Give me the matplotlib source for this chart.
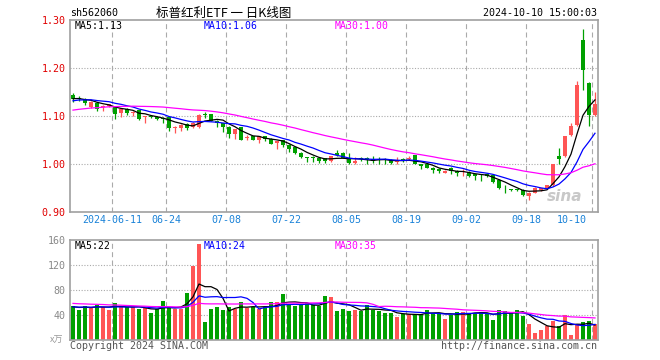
import numpy as np
import pandas as pd
import matplotlib
matplotlib.use('Agg')
import matplotlib.pyplot as plt

# daily K data for sh562060, 2024-05-30 .. 2024-10-10 (88 trading days)
open_ = [1.144, 1.137, 1.135, 1.118, 1.128, 1.118, 1.121, 1.118, 1.106, 1.115,
         1.106, 1.112, 1.097, 1.100, 1.098, 1.096, 1.097, 1.075, 1.076, 1.083,
         1.078, 1.078, 1.104, 1.104, 1.090, 1.085, 1.078, 1.063, 1.077, 1.054,
         1.058, 1.051, 1.058, 1.053, 1.043, 1.050, 1.040, 1.035, 1.023, 1.014,
         1.013, 1.012, 1.012, 1.006, 1.023, 1.023, 1.013, 1.002, 1.012, 1.012,
         1.011, 1.010, 1.010, 1.009, 1.004, 1.011, 1.011, 1.018, 1.000, 0.999,
         0.992, 0.990, 0.982, 0.992, 0.986, 0.984, 0.984, 0.979, 0.978, 0.979,
         0.977, 0.967, 0.950, 0.947, 0.947, 0.946, 0.933, 0.940, 0.946, 0.949,
         0.956, 1.017, 1.017, 1.060, 1.081, 1.258, 1.169, 1.102]
high = [1.148, 1.141, 1.137, 1.131, 1.129, 1.122, 1.126, 1.119, 1.116, 1.116,
        1.110, 1.113, 1.100, 1.101, 1.099, 1.097, 1.098, 1.080, 1.084, 1.086,
        1.088, 1.104, 1.108, 1.105, 1.091, 1.086, 1.079, 1.073, 1.078, 1.061,
        1.059, 1.059, 1.059, 1.054, 1.048, 1.051, 1.041, 1.036, 1.024, 1.015,
        1.017, 1.013, 1.013, 1.017, 1.030, 1.024, 1.023, 1.014, 1.015, 1.015,
        1.016, 1.014, 1.012, 1.010, 1.014, 1.012, 1.016, 1.019, 1.001, 1.000,
        0.993, 0.991, 0.987, 0.993, 0.987, 0.990, 0.986, 0.980, 0.979, 0.980,
        0.978, 0.968, 0.956, 0.948, 0.948, 0.947, 0.941, 0.952, 0.951, 0.957,
        1.000, 1.033, 1.058, 1.085, 1.172, 1.281, 1.170, 1.151]
low = [1.130, 1.131, 1.122, 1.117, 1.111, 1.110, 1.118, 1.094, 1.097, 1.103,
       1.099, 1.092, 1.086, 1.095, 1.092, 1.085, 1.069, 1.064, 1.068, 1.071,
       1.075, 1.076, 1.096, 1.089, 1.078, 1.067, 1.054, 1.053, 1.050, 1.051,
       1.050, 1.044, 1.047, 1.041, 1.032, 1.035, 1.026, 1.021, 1.012, 1.004,
       1.004, 1.002, 1.003, 1.004, 1.016, 1.012, 0.999, 1.000, 1.006, 1.000,
       1.002, 1.001, 1.001, 1.001, 1.000, 1.005, 1.009, 0.999, 0.990, 0.991,
       0.981, 0.981, 0.981, 0.979, 0.974, 0.974, 0.972, 0.967, 0.965, 0.972,
       0.960, 0.948, 0.939, 0.944, 0.944, 0.934, 0.925, 0.939, 0.944, 0.948,
       0.955, 1.001, 1.015, 1.058, 1.080, 1.154, 1.079, 1.099]
close = [1.135, 1.136, 1.127, 1.130, 1.115, 1.120, 1.124, 1.105, 1.115, 1.106,
         1.109, 1.094, 1.099, 1.097, 1.094, 1.094, 1.076, 1.077, 1.082, 1.076,
         1.086, 1.102, 1.102, 1.090, 1.085, 1.078, 1.063, 1.072, 1.051, 1.056,
         1.051, 1.058, 1.053, 1.042, 1.047, 1.039, 1.032, 1.022, 1.015, 1.013,
         1.012, 1.007, 1.006, 1.016, 1.018, 1.013, 1.002, 1.007, 1.011, 1.011,
         1.006, 1.009, 1.009, 1.002, 1.009, 1.007, 1.012, 1.000, 0.995, 0.992,
         0.987, 0.985, 0.986, 0.985, 0.981, 0.985, 0.974, 0.974, 0.977, 0.974,
         0.963, 0.949, 0.949, 0.946, 0.946, 0.935, 0.940, 0.951, 0.949, 0.956,
         1.000, 1.010, 1.058, 1.079, 1.165, 1.196, 1.102, 1.126]
volume = [53.9, 48.5, 53.9, 52.3, 56.5, 52.3, 48.5, 59.2, 52.3, 52.3,
          52.3, 50.1, 51.2, 43.2, 50.1, 62.9, 51.2, 50.1, 50.1, 75.2,
          118.9, 153.6, 28.8, 50.1, 52.8, 48.0, 52.3, 50.1, 60.8, 51.2,
          52.3, 50.1, 52.3, 60.8, 60.8, 73.6, 55.5, 53.9, 55.5, 59.2,
          55.5, 53.9, 69.9, 68.3, 46.9, 50.1, 46.9, 48.5, 45.9, 56.5,
          48.5, 45.9, 43.2, 43.2, 36.8, 41.6, 41.6, 41.6, 41.6, 48.5,
          43.2, 43.2, 34.1, 40.5, 44.8, 44.8, 43.2, 43.2, 43.2, 43.2,
          32.5, 48.5, 46.9, 43.2, 48.5, 38.9, 25.6, 11.2, 16.5, 21.9,
          29.9, 21.9, 40.5, 8.5, 25.6, 28.8, 30.9, 25.6]

# the 29 sessions before the window, only needed for the moving averages
close_before = [1.085, 1.088, 1.090, 1.092, 1.095, 1.094, 1.097, 1.099, 1.101, 1.100,
                1.103, 1.105, 1.106, 1.108, 1.110, 1.112, 1.114, 1.116, 1.117, 1.119,
                1.120, 1.124, 1.128, 1.131, 1.133, 1.135, 1.138, 1.137, 1.136]
vol_before = [66, 62, 65, 63, 61, 67, 64, 62, 66, 63, 65, 58, 60, 57, 59,
              56, 58, 61, 57, 56, 54, 52, 55, 51, 53, 54, 52, 55, 51]

tick_idx = [7, 16, 26, 36, 46, 56, 66, 76, 87]
tick_lbl = ['2024-06-11', '06-24', '07-08', '07-22', '08-05', '08-19', '09-02', '09-18', '10-10']

RED = '#ff5555'
GREEN = '#00a000'
GRID = '#aaaaaa'
MONO = 'DejaVu Sans Mono'
CJK = ['Noto Sans CJK SC', 'DejaVu Sans']

n = len(close)
x = np.arange(n)
o = np.array(open_); c = np.array(close)
up = c >= o
cols = np.where(up, RED, GREEN)


def ma(before, vals, w):
    s = pd.Series(list(before) + list(vals)).rolling(w).mean()
    return s.values[len(before):]


fig = plt.figure(figsize=(6.6, 3.6), dpi=100)
ax1 = fig.add_axes([70/660, 1 - 212/360, 528/660, 192/360])
ax2 = fig.add_axes([70/660, 20/360, 528/660, 100/360])

for ax in (ax1, ax2):
    ax.set_xlim(-0.5, n - 0.5)
    for s in ax.spines.values():
        s.set_color('#a0a0a0')
        s.set_linewidth(1.2)
    ax.tick_params(length=0)
    ax.set_xticks([])
    for t in tick_idx:
        ax.axvline(t - 0.5, color=GRID, lw=0.8, dashes=(4.5, 3), zorder=0)

# --- price panel
ax1.set_ylim(0.90, 1.30)
ax1.set_yticks([0.90, 1.00, 1.10, 1.20, 1.30])
ax1.set_yticklabels(['0.90', '1.00', '1.10', '1.20', '1.30'], family=MONO,
                    fontsize=7.2, color='#e00000')
ax1.tick_params(axis='y', pad=3)
for yv in [1.00, 1.10, 1.20]:
    ax1.axhline(yv, color=GRID, lw=0.8, ls=(0, (1, 1.5)), zorder=0)

ax1.vlines(x, low, high, colors=cols, lw=0.9, zorder=2)
body = np.maximum(np.abs(c - o), 0.0018)
ax1.bar(x, body, bottom=np.minimum(o, c), width=0.75, color=cols, lw=0, zorder=3)

ax1.plot(x, ma(close_before, close, 5), color='black', lw=0.9, zorder=4)
ax1.plot(x, ma(close_before, close, 10), color='#0000ff', lw=0.9, zorder=4)
ax1.plot(x, ma(close_before, close, 30), color='#ff00ff', lw=0.9, zorder=4)

ax1.text(0.0095, 0.969, 'MA5:1.13', transform=ax1.transAxes, family=MONO,
         fontsize=7.1, color='black', va='center')
ax1.text(0.2538, 0.969, 'MA10:1.06', transform=ax1.transAxes, family=MONO,
         fontsize=7.1, color='#0000ff', va='center')
ax1.text(0.501, 0.969, 'MA30:1.00', transform=ax1.transAxes, family=MONO,
         fontsize=7.1, color='#ff00ff', va='center')

for t, lbl in zip(tick_idx, tick_lbl):
    if t == tick_idx[-1]:
        ax1.text(t - 1.3, -0.043, lbl, transform=ax1.get_xaxis_transform(),
                 family=MONO, fontsize=7.2, color='#1a82d8', ha='right', va='center')
    else:
        ax1.text(t - 0.5, -0.043, lbl, transform=ax1.get_xaxis_transform(),
                 family=MONO, fontsize=7.2, color='#1a82d8', ha='center', va='center')

ax1.text(0.97, 0.08, 'sina', transform=ax1.transAxes, fontsize=11,
         fontweight='bold', style='italic', color='#c8c8c8', ha='right',
         va='center', zorder=1)

# --- volume panel
ax2.set_ylim(0, 160)
ax2.set_yticks([40, 80, 120, 160])
ax2.set_yticklabels(['40', '80', '120', '160'], family=MONO, fontsize=7.2,
                    color='#888888')
ax2.tick_params(axis='y', pad=3)
for yv in [40, 80, 120]:
    ax2.axhline(yv, color=GRID, lw=0.8, ls=(0, (1, 1.5)), zorder=0)

ax2.bar(x, volume, width=0.82, color=cols, lw=0, zorder=2)
ax2.plot(x, ma(vol_before, volume, 5), color='black', lw=0.9, zorder=4)
ax2.plot(x, ma(vol_before, volume, 10), color='#0000ff', lw=0.9, zorder=4)
ax2.plot(x, ma(vol_before, volume, 30), color='#ff00ff', lw=0.9, zorder=4)

ax2.text(0.0095, 0.937, 'MA5:22', transform=ax2.transAxes, family=MONO,
         fontsize=7.1, color='black', va='center')
ax2.text(0.2538, 0.937, 'MA10:24', transform=ax2.transAxes, family=MONO,
         fontsize=7.1, color='#0000ff', va='center')
ax2.text(0.501, 0.937, 'MA30:35', transform=ax2.transAxes, family=MONO,
         fontsize=7.1, color='#ff00ff', va='center')
ax2.text(-0.012, 0.0, 'x万', transform=ax2.transAxes, family=CJK, fontsize=6.5,
         color='#999999', ha='right', va='center')

# --- header / footer
fig.text(70/660, 1 - 13/360, 'sh562060', family=MONO, fontsize=7.2,
         color='black', va='center')
fig.text(224/660, 1 - 13/360, '标普红利ETF 一 日K线图', family=CJK, fontsize=9,
         color='black', ha='center', va='center')
fig.text(597/660, 1 - 13/360, '2024-10-10 15:00:03', family=MONO, fontsize=7.2,
         color='black', ha='right', va='center')
fig.text(70/660, 1 - 346/360, 'Copyright 2024 SINA.COM', family=MONO,
         fontsize=7.2, color='#555555', va='center')
fig.text(597/660, 1 - 346/360, 'http://finance.sina.com.cn', family=MONO,
         fontsize=7.2, color='#555555', ha='right', va='center')

fig.savefig('out.png', dpi=100)
